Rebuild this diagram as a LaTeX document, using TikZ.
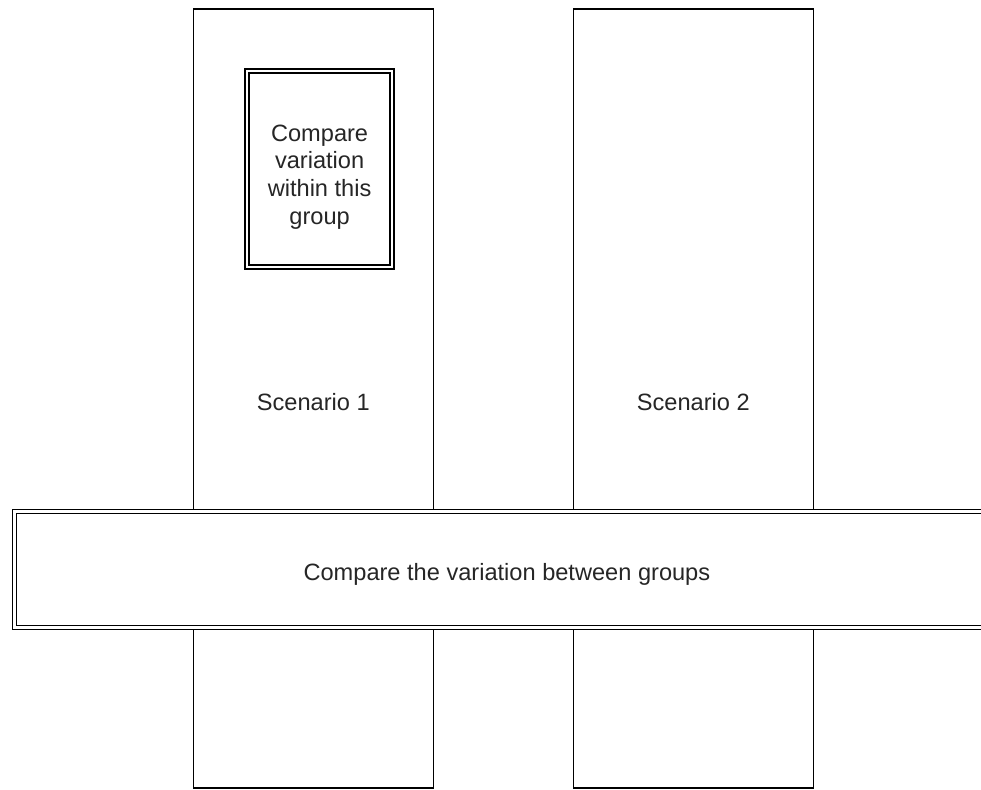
\documentclass[tikz,border=0pt]{standalone}
\usepackage{fontspec}
\setmainfont{Liberation Sans}
% shift a label down without changing the size the node sees
\newcommand{\dropby}[2]{\raisebox{-#1}[\height][\depth]{#2}}
\begin{document}
\begin{tikzpicture}[x=1pt,y=-1pt,
  every node/.style={inner sep=0pt,outer sep=0pt,font=\fontsize{23.6}{27.6}\selectfont,text=black!85},
  column/.style={draw=black,line width=1.5pt,fill=white,minimum width=240pt,minimum height=779pt},
  dblbox/.style={draw=black,line width=1.3pt,double=white,double distance=2.7pt,fill=white,align=center}]
  \useasboundingbox (0,0) rectangle (981,789);
  \clip (0,0) rectangle (981,789);
  \fill[white] (0,0) rectangle (981,789);

  % the two scenario columns
  \node[column] (s1) at (313.3,398.5) {\dropby{3.5pt}{Scenario 1}};
  \node[column] (s2) at (693.3,398.5) {\dropby{3.5pt}{Scenario 2}};

  % within-group comparison inside scenario 1
  \node[dblbox,minimum width=145pt,minimum height=196pt] (within) at (319.6,169.1)
    {\dropby{8pt}{\begin{tabular}{@{}c@{}}Compare\\variation\\within this\\group\end{tabular}}};

  % between-group comparison across both columns
  \node[dblbox,minimum width=984.3pt,minimum height=116pt] (between) at (506.9,569.3)
    {\dropby{5pt}{Compare the variation between groups}};
\end{tikzpicture}
\end{document}
